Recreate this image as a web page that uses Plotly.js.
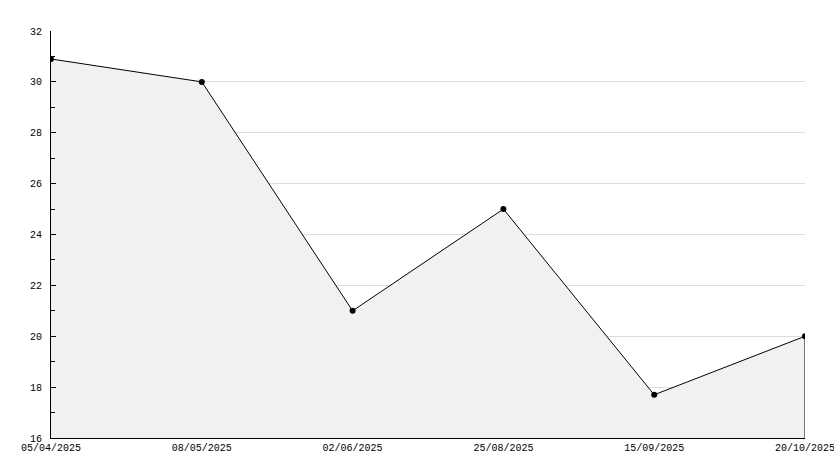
<!DOCTYPE html>
<html>
<head>
<meta charset="utf-8">
<script src="https://cdn.plot.ly/plotly-3.0.1.min.js"></script>
<style>html,body{margin:0;padding:0;background:#fff;}#chart{width:834px;height:468px;}</style>
</head>
<body>
<div id="chart"></div>
<script>
const dates = ["05/04/2025", "08/05/2025", "02/06/2025", "25/08/2025", "15/09/2025", "20/10/2025"];
const values = [30.9, 30.0, 21.0, 25.0, 17.7, 20.0];
const yMin = 16, yMax = 32;

const trace = {
  x: dates,
  y: values,
  type: 'scatter',
  mode: 'lines+markers',
  fill: 'tozeroy',
  fillcolor: '#f1f1f1',
  line: {color: '#000000', width: 1},
  marker: {color: '#000000', size: 6, symbol: 'circle'},
  hoverinfo: 'x+y'
};

const lastIdx = dates.length - 1;
const layout = {
  width: 834,
  height: 468,
  margin: {l: 51, r: 29, t: 31, b: 30},
  paper_bgcolor: '#ffffff',
  plot_bgcolor: '#ffffff',
  showlegend: false,
  font: {family: '"Liberation Mono", "DejaVu Sans Mono", monospace', size: 10, color: '#000000'},
  xaxis: {
    type: 'category',
    range: [0, lastIdx],
    showgrid: false,
    zeroline: false,
    showline: true,
    linecolor: '#000000',
    linewidth: 1,
    ticks: '',
    tickfont: {size: 10},
    fixedrange: true
  },
  yaxis: {
    range: [yMin, yMax],
    dtick: 2,
    tick0: 16,
    showgrid: true,
    gridcolor: '#dddddd',
    gridwidth: 1,
    zeroline: false,
    showline: true,
    linecolor: '#000000',
    linewidth: 1,
    ticks: 'inside',
    ticklen: 5,
    tickcolor: '#000000',
    ticklabelstandoff: 6,
    minor: {dtick: 1, ticks: 'inside', ticklen: 4, tickcolor: '#000000', showgrid: false},
    tickfont: {size: 10},
    fixedrange: true
  },
  shapes: [{
    type: 'line',
    xref: 'x', yref: 'y',
    x0: dates[lastIdx], x1: dates[lastIdx],
    y0: yMin, y1: values[lastIdx],
    line: {color: '#000000', width: 1},
    layer: 'above'
  }]
};

Plotly.newPlot('chart', [trace], layout, {displayModeBar: false, staticPlot: true});
</script>
</body>
</html>
